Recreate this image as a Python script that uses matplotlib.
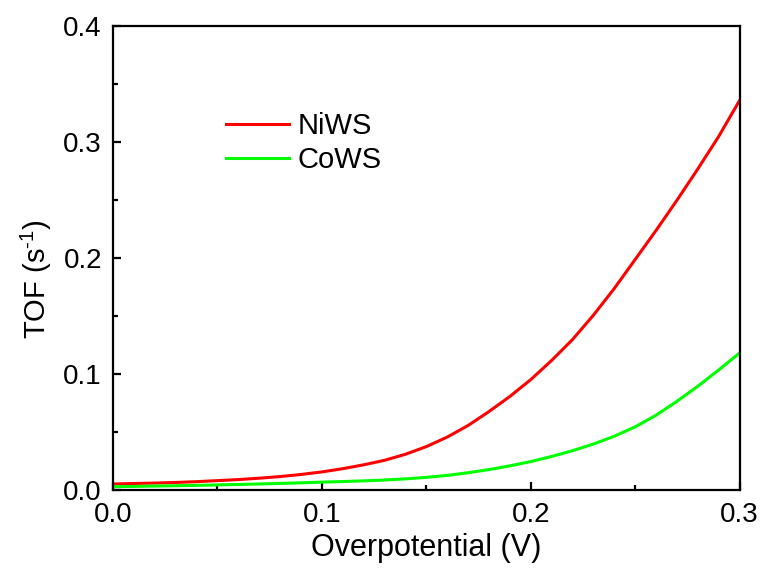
import matplotlib
matplotlib.use("Agg")
import matplotlib.pyplot as plt
from matplotlib.ticker import MultipleLocator, FormatStrFormatter

plt.rcParams["font.family"] = ["Liberation Sans", "DejaVu Sans"]
plt.rcParams["mathtext.fontset"] = "custom"
plt.rcParams["mathtext.rm"] = "Liberation Sans"

# overpotential (V) and turnover frequency (s^-1)
overpotential = [0.00, 0.01, 0.02, 0.03, 0.04, 0.05, 0.06, 0.07, 0.08, 0.09,
                 0.10, 0.11, 0.12, 0.13, 0.14, 0.15, 0.16, 0.17, 0.18, 0.19,
                 0.20, 0.21, 0.22, 0.23, 0.24, 0.25, 0.26, 0.27, 0.28, 0.29, 0.30]
tof_niws = [0.0056, 0.0060, 0.0064, 0.0069, 0.0076, 0.0085, 0.0094, 0.0106, 0.0120, 0.0138,
            0.0160, 0.0188, 0.0221, 0.0260, 0.0312, 0.0378, 0.0460, 0.0560, 0.0680, 0.0810,
            0.0955, 0.1120, 0.1300, 0.1510, 0.1740, 0.1990, 0.2240, 0.2500, 0.2770, 0.3050, 0.3360]
tof_cows = [0.0033, 0.0035, 0.0038, 0.0041, 0.0044, 0.0048, 0.0052, 0.0056, 0.0061, 0.0066,
            0.0072, 0.0077, 0.0083, 0.0090, 0.0100, 0.0113, 0.0130, 0.0153, 0.0180, 0.0212,
            0.0249, 0.0293, 0.0343, 0.0400, 0.0467, 0.0548, 0.0648, 0.0768, 0.0898, 0.1038, 0.1184]

fig = plt.figure(figsize=(7.64, 5.70), dpi=100)
ax = fig.add_axes([0.148, 0.1395, 0.820, 0.8145])

ax.plot(overpotential, tof_niws, color="#ff0000", lw=2.2, label="NiWS")
ax.plot(overpotential, tof_cows, color="#00ff00", lw=2.2, label="CoWS")

ax.set_xlim(0, 0.3)
ax.set_ylim(0, 0.4)
ax.xaxis.set_major_locator(MultipleLocator(0.1))
ax.xaxis.set_minor_locator(MultipleLocator(0.05))
ax.yaxis.set_major_locator(MultipleLocator(0.1))
ax.yaxis.set_minor_locator(MultipleLocator(0.05))
ax.xaxis.set_major_formatter(FormatStrFormatter("%.1f"))
ax.yaxis.set_major_formatter(FormatStrFormatter("%.1f"))

for s in ax.spines.values():
    s.set_linewidth(1.6)
ax.tick_params(which="both", direction="in", top=False, right=False,
               labelsize=20, width=1.6, pad=8)
ax.tick_params(which="major", length=6)
ax.tick_params(which="minor", length=3.5)

ax.set_xlabel("Overpotential (V)", fontsize=22, labelpad=4)
ax.set_ylabel(r"TOF (s$^{\text{-}1}$)", fontsize=21)
ax.yaxis.set_label_coords(-0.095, 0.455)

ax.legend(loc="upper left", bbox_to_anchor=(0.18, 0.815), frameon=False,
          fontsize=21, handlelength=2.15, handletextpad=0.31,
          labelspacing=0.2, borderpad=0, borderaxespad=0)

fig.savefig("out.png", dpi=100)
